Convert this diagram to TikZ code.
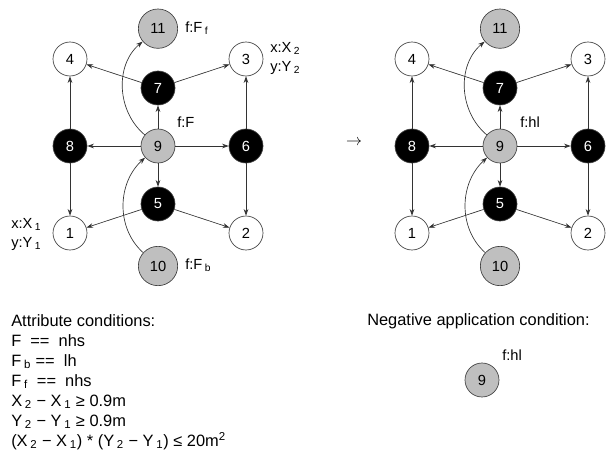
\documentclass[tikz,border=0pt]{standalone}
\usepackage{fontspec}
\setmainfont{Liberation Sans}
\usetikzlibrary{arrows.meta,positioning}
\newcommand{\lo}[1]{\,\textsubscript{#1}}

\begin{document}
\begin{tikzpicture}[
  x=0.75pt, y=0.75pt,
  node distance=43.5pt and 66pt,
  on grid,
  every node/.style={font=\fontsize{11pt}{14pt}\selectfont},
  vtx/.style={circle, draw=black!75, line width=0.5pt, minimum size=25.5pt, inner sep=0pt},
  wvtx/.style={vtx, fill=white},
  bvtx/.style={vtx, fill=black, text=white},
  gvtx/.style={vtx, fill=black!25},
  bigvtx/.style={gvtx, minimum size=29.5pt},
  lbl/.style={anchor=west, inner sep=0pt},
  cond/.style={anchor=north west, align=left, inner sep=0pt,
    font=\fontsize{12.3pt}{15pt}\selectfont},
  link/.style={-{Stealth[length=5pt,width=3.5pt]}, draw=black!80, line width=0.5pt},
]
\useasboundingbox (0,0) rectangle (609,-471);

% --- Left-hand side -------------------------------------------
\node[gvtx] (L9) at (158,-146) {9};
\node[bvtx, above=of L9] (L7) {7};
\node[bvtx, below=of L9] (L5) {5};
\node[bvtx, left=of L9] (L8) {8};
\node[bvtx, right=of L9] (L6) {6};
\node[wvtx, above=65.25pt of L8] (L4) {4};
\node[wvtx, below=65.25pt of L8] (L1) {1};
\node[wvtx, above=65.25pt of L6] (L3) {3};
\node[wvtx, below=65.25pt of L6] (L2) {2};
\node[bigvtx, above=88pt of L9] (L11) {11};
\node[bigvtx, below=90pt of L9] (L10) {10};

\node[lbl] (Lf11) at (185,-28) {f:F\lo{f}};
\node[lbl] (Lf9) at (177,-122) {f:F};
\node[lbl] (Lf10) at (185,-265) {f:F\lo{b}};
\node[anchor=north west, align=left, inner sep=0pt] (Lxy2) at (270,-42) {x:X\lo{2}\\y:Y\lo{2}};
\node[anchor=north west, align=left, inner sep=0pt] (Lxy1) at (11,-218) {x:X\lo{1}\\y:Y\lo{1}};

\draw[link] (L9) -- (L7);
\draw[link] (L9) -- (L5);
\draw[link] (L9) -- (L8);
\draw[link] (L9) -- (L6);
\draw[link] (L7) -- (L4);
\draw[link] (L7) -- (L3);
\draw[link] (L8) -- (L4);
\draw[link] (L8) -- (L1);
\draw[link] (L6) -- (L3);
\draw[link] (L6) -- (L2);
\draw[link] (L5) -- (L1);
\draw[link] (L5) -- (L2);
\draw[link] (L9) to[out=140, in=220] (L11);
\draw[link] (L10) to[out=138, in=222] (L9);

% --- Rule arrow -----------------------------------------------
\node (arr) at (354,-143) {\large$\rightarrow$};

% --- Right-hand side ------------------------------------------
\node[gvtx] (R9) at (500,-146) {9};
\node[bvtx, above=of R9] (R7) {7};
\node[bvtx, below=of R9] (R5) {5};
\node[bvtx, left=of R9] (R8) {8};
\node[bvtx, right=of R9] (R6) {6};
\node[wvtx, above=65.25pt of R8] (R4) {4};
\node[wvtx, below=65.25pt of R8] (R1) {1};
\node[wvtx, above=65.25pt of R6] (R3) {3};
\node[wvtx, below=65.25pt of R6] (R2) {2};
\node[bigvtx, above=88pt of R9] (R11) {11};
\node[bigvtx, below=90pt of R9] (R10) {10};

\node[lbl] (Rf9) at (520,-122) {f:hl};

\draw[link] (R9) -- (R7);
\draw[link] (R9) -- (R5);
\draw[link] (R9) -- (R8);
\draw[link] (R9) -- (R6);
\draw[link] (R7) -- (R4);
\draw[link] (R7) -- (R3);
\draw[link] (R8) -- (R4);
\draw[link] (R8) -- (R1);
\draw[link] (R6) -- (R3);
\draw[link] (R6) -- (R2);
\draw[link] (R5) -- (R1);
\draw[link] (R5) -- (R2);
\draw[link] (R9) to[out=140, in=220] (R11);
\draw[link] (R10) to[out=138, in=222] (R9);

% --- Conditions -----------------------------------------------
\node[cond] (attr) at (11,-314) {Attribute conditions:\\
F\ \ ==\ \ nhs\\
F\lo{b} ==\ \ lh\\
F\lo{f}\ \ ==\ \ nhs\\
X\lo{2} − X\lo{1} ≥\ 0.9m\\
Y\lo{2} − Y\lo{1} ≥\ 0.9m\\
(X\lo{2} − X\lo{1}) * (Y\lo{2} − Y\lo{1}) ≤\ 20m\textsuperscript{2}};

\node[cond] (nac) at (367,-313) {Negative application condition:};
\node[gvtx] (N9) at (482,-380) {9};
\node[lbl] (Nf9) at (502,-355) {f:hl};

\end{tikzpicture}
\end{document}
